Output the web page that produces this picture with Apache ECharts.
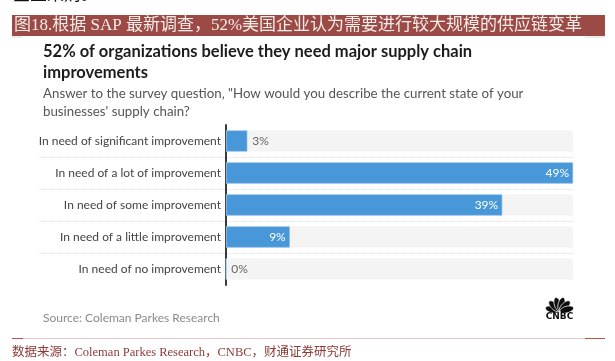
<!DOCTYPE html>
<html>
<head>
<meta charset="utf-8">
<script src="https://cdn.jsdelivr.net/npm/echarts@6/dist/echarts.min.js"></script>
<style>
html,body{margin:0;padding:0;background:#fff;}
#c{width:615px;height:361px;}
</style>
</head>
<body>
<div id="c"></div>
<script>
const categories = [
  'In need of significant improvement',
  'In need of a lot of improvement',
  'In need of some improvement',
  'In need of a little improvement',
  'In need of no improvement'
];
const values = [3, 49, 39, 9, 0];

const headerText = '图18.根据 SAP 最新调查，52%美国企业认为需要进行较大规模的供应链变革';
const chartTitle = '52% of organizations believe they need major supply chain\nimprovements';
const chartSubtitle = 'Answer to the survey question, "How would you describe the current state of your\nbusinesses\' supply chain?';
const sourceText = 'Source: Coleman Parkes Research';
const footerText = '数据来源：Coleman Parkes Research，CNBC，财通证券研究所';
const topCutText = '企业采购。';

const chart = echarts.init(document.getElementById('c'), null, {renderer: 'canvas'});

const sansFont = 'Lato, "Open Sans", sans-serif';
const serifCJK = '"Liberation Serif", "Noto Sans CJK SC", serif';

const barData = values.map(v => ({
  value: v,
  label: v >= 5
    ? {position: 'insideRight', color: '#ffffff', distance: 4}
    : {position: 'right', color: '#666666', distance: 5}
}));

// peacock feathers (logo)
const feathers = [];
const fAngles = [-75, -45, -15, 15, 45, 75];
fAngles.forEach(a => {
  const r = a * Math.PI / 180;
  const cx = 559.5 + Math.sin(r) * 7.5;
  const cy = 311.5 - Math.cos(r) * 7.5;
  feathers.push({
    type: 'ellipse',
    shape: {cx: 0, cy: 0, rx: 3.3, ry: 7},
    x: cx, y: cy,
    rotation: -r,
    style: {fill: '#0c0c0c', stroke: '#fff', lineWidth: 0.7},
    z: 10
  });
});

const option = {
  animation: false,
  backgroundColor: '#ffffff',
  title: [
    {
      text: chartTitle,
      left: 38, top: 36,
      textStyle: {fontFamily: sansFont, fontSize: 16.5, fontWeight: 'bold', color: '#1c1c1c', lineHeight: 21}
    },
    {
      text: chartSubtitle,
      left: 38, top: 80,
      textStyle: {fontFamily: sansFont, fontSize: 13.3, fontWeight: 'normal', color: '#555555', lineHeight: 18}
    },
    {
      text: sourceText,
      left: 38, top: 307,
      textStyle: {fontFamily: sansFont, fontSize: 12, fontWeight: 'normal', color: '#8a8a8a'}
    }
  ],
  grid: [
    {left: 38, right: 42, top: 125, height: 160, containLabel: false},
    {left: 226, right: 42, top: 125, height: 160, containLabel: false}
  ],
  xAxis: [
    {gridIndex: 0, type: 'value', min: 0, max: 1, show: false},
    {gridIndex: 1, type: 'value', min: 0, max: Math.max(...values), show: false}
  ],
  yAxis: [
    {
      gridIndex: 0, type: 'category', data: categories, inverse: true,
      axisLine: {show: false}, axisTick: {show: false}, axisLabel: {show: false},
      splitLine: {show: true, showMinLine: false, showMaxLine: false,
        lineStyle: {color: '#e2e2e2', type: [1, 1], width: 1}}
    },
    {
      gridIndex: 1, type: 'category', data: categories, inverse: true,
      axisLine: {show: true, lineStyle: {color: '#3a3a3a', width: 2}},
      axisTick: {show: false},
      axisLabel: {margin: 5, color: '#444444', fontSize: 12, fontFamily: sansFont},
      splitLine: {show: false}
    }
  ],
  series: [
    {
      type: 'bar',
      xAxisIndex: 1, yAxisIndex: 1,
      data: barData,
      barWidth: 21,
      itemStyle: {color: '#4897d8', borderColor: '#7ab4e4', borderWidth: 0.6},
      showBackground: true,
      backgroundStyle: {color: '#f4f4f4'},
      label: {show: true, formatter: '{c}%', fontSize: 12, fontFamily: sansFont},
      z: 3
    }
  ],
  graphic: [
    {type: 'text', x: 13, y: -13, style: {text: topCutText, font: '17px ' + serifCJK, fill: '#111'}},
    {type: 'rect', shape: {x: 12, y: 15, width: 593, height: 21}, style: {fill: '#9b4a45'}},
    {type: 'text', x: 14, y: 25.5, style: {text: headerText, font: '17px ' + serifCJK, fill: '#f3ece9', textVerticalAlign: 'middle'}},
    {type: 'line', shape: {x1: 12, y1: 37, x2: 22, y2: 37}, style: {stroke: '#d8d8d8', lineWidth: 1}},
    {type: 'line', shape: {x1: 585, y1: 37, x2: 605, y2: 37}, style: {stroke: '#d8d8d8', lineWidth: 1}},
    ...feathers,
    {type: 'text', x: 559.5, y: 316.5, style: {text: 'CNBC', font: 'bold 9px "DejaVu Sans", sans-serif', fill: '#111', textAlign: 'center', textVerticalAlign: 'middle'}, z: 10},
    {type: 'line', shape: {x1: 12, y1: 338.5, x2: 605, y2: 338.5}, style: {stroke: '#e7c9c7', lineWidth: 1}},
    {type: 'line', shape: {x1: 12, y1: 338.5, x2: 23, y2: 338.5}, style: {stroke: '#c0524c', lineWidth: 1}},
    {type: 'line', shape: {x1: 585, y1: 338.5, x2: 605, y2: 338.5}, style: {stroke: '#c0524c', lineWidth: 1}},
    {type: 'text', x: 12, y: 353, style: {text: footerText, font: '12.5px ' + serifCJK, fill: '#8e3a36', textVerticalAlign: 'middle'}}
  ]
};
chart.setOption(option);
</script>
</body>
</html>
